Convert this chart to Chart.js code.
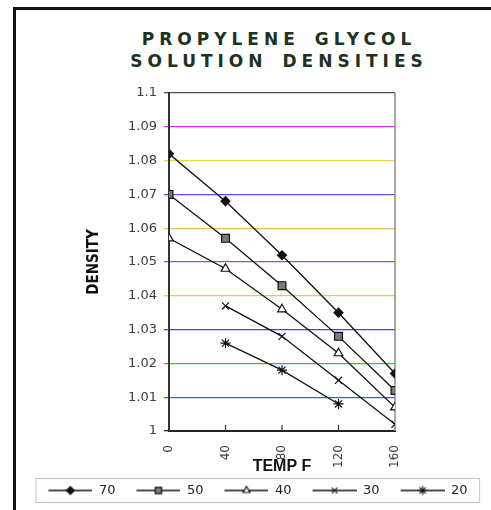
<!DOCTYPE html>
<html>
<head>
<meta charset="utf-8">
<title>Propylene Glycol Solution Densities</title>
<script src="https://cdn.jsdelivr.net/npm/chart.js@4.4.1/dist/chart.umd.min.js"></script>
<style>
    html, body { margin: 0; padding: 0; background: #fff; }
    #wrap { position: relative; width: 491px; height: 510px; overflow: hidden; background: #fff; }
    #frame { position: absolute; left: 13px; top: 7px; width: 600px; height: 600px;
             border-top: 3px solid #111; border-left: 3px solid #111; }
    #title { position: absolute; left: 0; top: 28px; width: 558px; text-align: center;
             font: bold 17px 'DejaVu Sans', sans-serif; letter-spacing: 5px; word-spacing: 4px;
             line-height: 22px; color: #1c331e; }
    canvas { position: absolute; left: 0; top: 0; }
</style>
</head>
<body>
<div id="wrap">
    <div id="frame"></div>
    <div id="title">PROPYLENE GLYCOL<br>SOLUTION DENSITIES</div>
    <canvas id="densityChart" width="491" height="510"></canvas>
</div>
<script>
// values
const temps = [0, 40, 80, 120, 160];
const seriesNames = ['70', '50', '40', '30', '20'];
const density70 = [1.082, 1.068, 1.052, 1.035, 1.017];
const density50 = [1.070, 1.057, 1.043, 1.028, 1.012];
const density40 = [1.057, 1.048, 1.036, 1.023, 1.007];
const density30 = [null, 1.037, 1.028, 1.015, 1.002];
const density20 = [null, 1.026, 1.018, 1.008, null];
const densityTicks = [1, 1.01, 1.02, 1.03, 1.04, 1.05, 1.06, 1.07, 1.08, 1.09, 1.1];
const tempTicks = [0, 40, 80, 120, 160];

const seriesValues = [density70, density50, density40, density30, density20];

// gridline colours, bottom to top (the scan tinted each line)
const gridColors = ['#222', '#4058f0', '#20d030', '#4040e8', '#e8d030', '#9050f0',
                    '#f0b860', '#5050f0', '#ecd840', '#d030e8', '#3d5a3d'];

const markers = [
    { style: 'rectRot', radius: 4.5, legendRadius: 4, fill: '#111' },
    { style: 'rect', radius: 5.5, legendRadius: 4.5, fill: '#7a7a7a' },
    { style: 'triangle', radius: 5, legendRadius: 4, fill: '#fff' },
    { style: 'crossRot', radius: 5, legendRadius: 4, fill: '#111' },
    { style: 'star', radius: 5, legendRadius: 4.5, fill: '#111' }
];

function toPoints(values) {
    return temps.map(function (t, i) {
        return { x: t, y: values[i] };
    }).filter(function (p) {
        return p.y !== null;
    });
}

// legend swatch: line with the marker in its middle, transparent lead-in on the left
function legendImage(marker) {
    const c = document.createElement('canvas');
    c.width = 59;
    c.height = 14;
    const ctx = c.getContext('2d');
    ctx.strokeStyle = '#111';
    ctx.lineWidth = 1.3;
    ctx.beginPath();
    ctx.moveTo(15, 7);
    ctx.lineTo(59, 7);
    ctx.stroke();
    ctx.fillStyle = marker.fill;
    ctx.lineWidth = 1.2;
    Chart.helpers.drawPoint(ctx, { pointStyle: marker.style, radius: marker.legendRadius, borderWidth: 1.2, rotation: 0 }, 37, 7);
    return c;
}

const legendImages = markers.map(legendImage);

const plotFrame = {
    id: 'plotFrame',
    beforeDatasetsDraw(chart) {
        const ctx = chart.ctx;
        const area = chart.chartArea;
        const x = chart.scales.x;
        ctx.save();
        ctx.strokeStyle = '#8a8a8a';
        ctx.lineWidth = 1.5;
        ctx.beginPath();
        ctx.moveTo(area.right, area.top);
        ctx.lineTo(area.right, area.bottom);
        ctx.stroke();
        // short tick marks pointing up into the plot
        ctx.strokeStyle = '#333';
        ctx.lineWidth = 1.2;
        tempTicks.slice(1, -1).forEach(function (t) {
            const px = x.getPixelForValue(t);
            ctx.beginPath();
            ctx.moveTo(px, area.bottom);
            ctx.lineTo(px, area.bottom - 6);
            ctx.stroke();
        });
        ctx.restore();
    },
    afterDraw(chart) {
        const boxes = chart.legend.legendHitBoxes;
        if (!boxes || boxes.length === 0) {
            return;
        }
        const first = boxes[0];
        const last = boxes[boxes.length - 1];
        const left = first.left + 15 - 12.5;
        const ctx = chart.ctx;
        ctx.save();
        ctx.strokeStyle = '#b9d2b4';
        ctx.lineWidth = 1;
        ctx.strokeRect(left, first.top - 5.5, last.left + last.width + 12 - left, first.height + 11);
        ctx.restore();
    }
};

new Chart(document.getElementById('densityChart'), {
    type: 'line',
    data: {
        datasets: seriesValues.map(function (values, i) {
            return {
                label: seriesNames[i],
                data: toPoints(values),
                borderColor: '#111',
                borderWidth: 1.3,
                tension: 0,
                pointStyle: markers[i].style,
                pointRadius: markers[i].radius,
                pointBackgroundColor: markers[i].fill,
                pointBorderColor: '#111',
                pointBorderWidth: 1.2
            };
        })
    },
    options: {
        responsive: false,
        animation: false,
        events: [],
        layout: {
            padding: { left: 20, right: 10, top: 93, bottom: 3 }
        },
        scales: {
            x: {
                type: 'linear',
                min: 0,
                max: 160,
                afterBuildTicks: function (scale) {
                    scale.ticks = tempTicks.map(function (v) { return { value: v }; });
                },
                afterFit: function (scale) { scale.height = 47; },
                grid: { display: false },
                border: { color: '#222', width: 2 },
                ticks: {
                    autoSkip: false,
                    minRotation: 90,
                    maxRotation: 90,
                    padding: 6,
                    color: '#3b3b48',
                    font: { family: "'DejaVu Sans', sans-serif", size: 12 }
                },
                title: {
                    display: true,
                    text: 'TEMP F',
                    color: '#111',
                    padding: { top: 1, bottom: 2 },
                    font: { family: "'Liberation Sans', Arial, sans-serif", size: 16, weight: 'bold' }
                }
            },
            y: {
                min: 1,
                max: 1.1,
                afterBuildTicks: function (scale) {
                    scale.ticks = densityTicks.map(function (v) { return { value: v }; });
                },
                afterFit: function (scale) { scale.width = 149; },
                grid: {
                    color: function (ctx) { return gridColors[ctx.index] || '#999'; },
                    lineWidth: 1.3,
                    tickLength: 5
                },
                border: { color: '#333', width: 2 },
                ticks: {
                    autoSkip: false,
                    padding: 7,
                    color: '#3b3b48',
                    font: { family: "'DejaVu Sans', sans-serif", size: 13 },
                    callback: function (value) { return String(Number(value.toFixed(2))); }
                },
                title: {
                    display: true,
                    text: 'DENSITY',
                    color: '#111',
                    padding: { top: 65, bottom: 0 },
                    font: { family: "'Liberation Sans Narrow', 'DejaVu Sans Condensed', sans-serif", size: 15, weight: 'bold' }
                }
            },
            // empty right-hand axis that only reserves the white margin right of the plot
            yRight: {
                position: 'right',
                grid: { display: false },
                border: { display: false },
                ticks: { display: false },
                afterFit: function (scale) { scale.width = 86; }
            }
        },
        plugins: {
            title: { display: false },
            tooltip: { enabled: false },
            legend: {
                position: 'bottom',
                labels: {
                    usePointStyle: true,
                    pointStyleWidth: 59,
                    boxHeight: 13,
                    padding: 6,
                    color: '#222',
                    font: { family: "'DejaVu Sans', sans-serif", size: 13 },
                    generateLabels: function (chart) {
                        return chart.data.datasets.map(function (ds, i) {
                            return {
                                text: ds.label,
                                pointStyle: legendImages[i],
                                fillStyle: '#fff',
                                strokeStyle: '#111',
                                lineWidth: 0,
                                hidden: false,
                                datasetIndex: i,
                                fontColor: '#222'
                            };
                        });
                    }
                }
            }
        }
    },
    plugins: [plotFrame]
});
</script>
</body>
</html>
